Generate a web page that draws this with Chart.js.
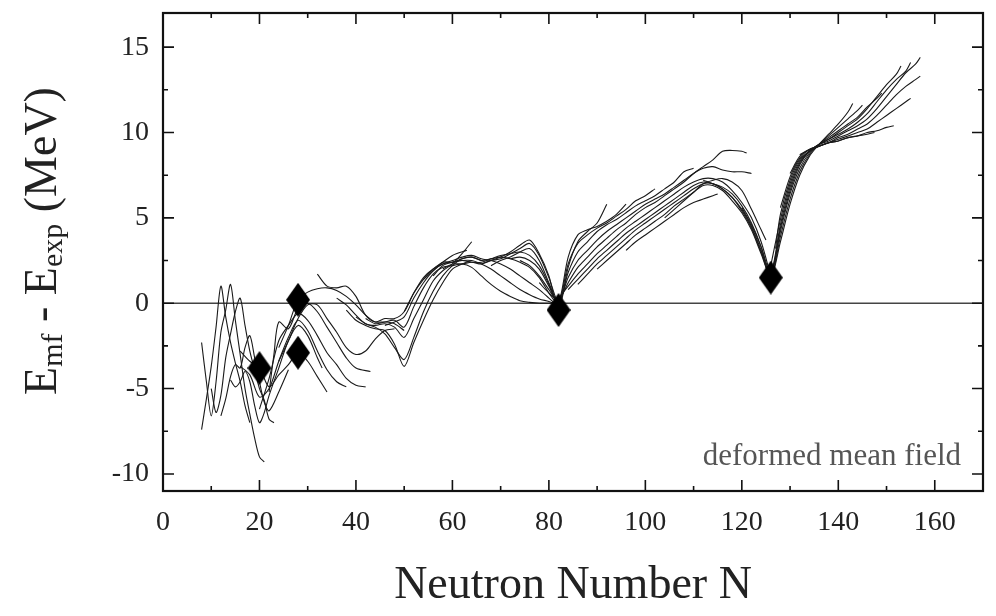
<!DOCTYPE html>
<html>
<head>
<meta charset="utf-8">
<script src="https://cdn.jsdelivr.net/npm/chart.js@4.4.0/dist/chart.umd.min.js"></script>
<style>
  html, body { margin: 0; padding: 0; background: #fff; }
</style>
</head>
<body>
<canvas id="meanfield" width="996" height="616"></canvas>
<script>
// isotope chains: [N, E_mf - E_exp]
const z08 = [[8,-7.4],[9,-5.6],[10,-3.7],[11,-1.4],[12,1.0],[13,-0.8],[14,-2.3],[15,-3.5],[16,-4.6],[17,-6.0],[18,-7.0]];
const z10 = [[8,-2.3],[9,-4.6],[10,-6.6],[11,-4.6],[12,-1.7],[13,-0.4],[14,1.1],[15,-1.0],[16,-3.0],[17,-5.0],[18,-6.5],[19,-7.9],[20,-9.0],[21,-9.3]];
const z12 = [[10,-5.0],[11,-6.4],[12,-5.4],[13,-3.2],[14,-1.8],[15,-0.5],[16,0.3],[17,-1.3],[18,-2.8],[19,-3.9],[20,-5.0],[21,-5.7],[22,-6.8],[23,-7.0]];
const z14 = [[12,-6.6],[13,-5.6],[14,-4.3],[15,-3.6],[16,-3.8],[17,-2.6],[18,-1.9],[19,-3.2],[20,-4.6],[21,-5.8],[22,-6.3],[24,-5.2],[26,-3.9]];
const z16 = [[14,-4.5],[15,-4.9],[16,-4.6],[17,-4.0],[18,-4.6],[19,-6.0],[20,-7.0],[21,-6.4],[22,-5.4],[24,-3.8],[26,-2.2],[28,-1.3],[30,-1.9],[32,-3.2],[33,-3.8]];
const z18 = [[16,-3.7],[18,-4.2],[20,-5.5],[22,-5.0],[24,-3.4],[26,-2.0],[28,-1.0],[30,-1.6],[32,-2.8],[34,-3.9],[36,-4.6],[38,-4.9]];
const z20 = [[16,-2.8],[18,-3.4],[20,-3.8],[22,-4.9],[24,-4.2],[26,-3.6],[28,-2.9],[30,-3.4],[32,-4.3],[34,-5.2]];
const z22 = [[20,-6.2],[22,-4.4],[24,-2.2],[26,-1.3],[28,-0.6],[30,-1.0],[32,-1.9],[34,-2.9],[36,-3.6],[38,-4.4],[40,-4.8],[42,-4.9]];
const z24 = [[22,-5.2],[23,-3.0],[24,-1.1],[26,-1.5],[28,-0.3],[30,0.0],[32,-0.5],[34,-1.4],[36,-2.3],[38,-3.2],[40,-3.8],[43,-4.0]];
const z26 = [[24,-3.4],[26,-2.2],[28,-0.9],[30,-0.1],[32,-0.1],[34,-0.9],[36,-1.7],[38,-2.6],[40,-3.0],[42,-2.8],[44,-2.1],[46,-1.6],[48,-1.5]];
const z28 = [[24,-2.6],[26,-1.3],[28,0.2],[30,0.65],[32,0.85],[34,0.9],[36,0.75],[38,0.4],[40,-0.1],[42,-0.7],[44,-1.1],[46,-1.1],[48,-1.2],[50,-1.6]];
const z30 = [[32,1.7],[34,1.0],[36,0.9],[38,1.0],[40,0.4],[42,-0.7],[44,-1.1],[46,-0.9],[48,-0.9],[50,-0.5],[52,0.6],[54,1.4],[56,2.0],[58,2.4],[60,2.8],[63,3.1]];
const z34 = [[36,0.3],[38,-0.1],[40,-0.7],[42,-1.2],[44,-1.3],[46,-1.2],[48,-1.4],[50,-2.0],[52,-0.9],[54,0.2],[56,1.3],[58,1.9],[60,2.3],[62,2.9],[64,3.6]];
const z36 = [[38,-0.4],[40,-1.0],[42,-1.3],[44,-1.5],[46,-1.6],[48,-2.4],[50,-3.7],[52,-2.3],[54,-1.0],[56,0.2],[58,1.2],[60,2.0],[62,2.3],[64,2.5]];
const z38 = [[40,-0.8],[42,-1.2],[44,-1.4],[46,-1.8],[48,-2.6],[50,-3.3],[52,-2.0],[54,-0.5],[56,0.7],[58,1.6],[60,2.2],[62,2.6],[64,2.7],[66,2.5]];
const z40 = [[42,-0.9],[44,-1.2],[46,-1.1],[48,-1.0],[50,-1.4],[52,-0.2],[54,0.9],[56,1.7],[58,2.1],[60,2.2],[62,2.3],[64,2.1],[66,1.6],[68,1.1],[70,0.7],[72,0.4],[74,0.15],[76,0.05],[78,0.0],[81,0.0]];
const z42 = [[46,-1.3],[48,-1.1],[50,-0.8],[52,0.3],[54,1.2],[56,1.9],[58,2.3],[60,2.4],[62,2.5],[64,2.5],[66,2.3],[68,2.0],[70,1.6],[72,1.2],[74,0.8],[76,0.5],[78,0.25],[80,0.1],[82,-0.1]];
const z44 = [[50,-0.5],[52,0.6],[54,1.5],[56,2.0],[58,2.3],[60,2.5],[62,2.7],[64,2.8],[66,2.6],[68,2.5],[70,2.3],[72,2.0],[74,1.6],[76,1.2],[78,0.8],[80,0.3],[82,-0.2]];
const z46 = [[54,1.4],[56,1.9],[58,2.4],[60,2.4],[62,2.6],[64,2.7],[66,2.5],[68,2.6],[70,2.7],[72,2.6],[74,2.4],[76,2.1],[78,1.5],[80,0.6],[82,-0.2]];
const z48 = [[56,1.6],[58,2.2],[60,2.4],[62,2.5],[64,2.4],[66,2.4],[68,2.6],[70,2.8],[72,2.9],[74,3.0],[76,2.8],[78,2.2],[80,1.1],[82,-0.3]];
const z50 = [[58,2.0],[60,2.3],[62,2.3],[64,2.4],[66,2.3],[68,2.5],[70,2.7],[72,3.0],[74,3.4],[76,3.7],[78,2.9],[80,1.6],[82,-0.4],[84,2.1],[86,3.6],[88,4.2],[90,4.7],[92,5.8]];
const z52 = [[66,2.3],[68,2.5],[70,2.6],[72,2.9],[74,3.2],[76,3.5],[78,2.8],[80,1.5],[82,0.1],[84,2.7],[86,4.0],[88,4.3],[90,4.5],[92,4.8],[94,5.2],[96,5.8]];
const z54 = [[68,2.2],[70,2.5],[72,2.7],[74,3.0],[76,3.2],[78,2.5],[80,1.2],[82,0.0],[84,2.3],[86,3.5],[88,4.0],[90,4.4],[92,4.7],[94,5.1],[96,5.5],[98,6.0],[100,6.3],[102,6.7]];
const z56 = [[72,2.6],[74,2.7],[76,2.5],[78,2.0],[80,1.0],[82,0.0],[84,1.8],[86,3.0],[88,3.6],[90,4.2],[92,4.6],[94,4.9],[96,5.3],[98,5.7],[100,6.0],[102,6.3],[104,6.7],[106,7.1],[108,7.7],[110,7.9]];
const z58 = [[74,2.5],[76,2.2],[78,1.6],[80,0.8],[82,0.1],[84,1.5],[86,2.5],[88,3.1],[90,3.7],[92,4.2],[94,4.6],[96,5.0],[98,5.4],[100,5.8],[102,6.1],[104,6.4],[106,6.8],[108,7.2],[110,7.6],[112,7.9],[114,8.0],[116,7.8],[118,7.7],[120,7.7],[122,7.6]];
const z60 = [[78,1.2],[80,0.6],[82,0.2],[84,1.2],[86,2.1],[88,2.7],[90,3.3],[92,3.8],[94,4.3],[96,4.7],[98,5.2],[100,5.6],[102,5.9],[104,6.3],[106,6.7],[108,7.1],[110,7.6],[112,8.0],[114,8.4],[116,8.9],[118,8.95],[120,8.9],[121,8.8]];
const z62 = [[82,0.3],[84,1.0],[86,1.7],[88,2.3],[90,2.9],[92,3.4],[94,3.9],[96,4.4],[98,4.8],[100,5.2],[102,5.6],[104,6.0],[106,6.4],[108,6.8],[110,7.1],[112,7.3],[114,7.3],[116,7.1],[118,6.6],[120,5.9],[122,5.0],[124,3.6],[126,1.6]];
const z64 = [[84,0.8],[86,1.4],[88,2.0],[90,2.6],[92,3.1],[94,3.6],[96,4.1],[98,4.5],[100,4.9],[102,5.3],[104,5.7],[106,6.1],[108,6.5],[110,6.9],[112,7.1],[114,7.0],[116,6.8],[118,6.4],[120,5.7],[122,4.7],[124,3.3],[126,1.5],[128,3.6],[130,5.8],[132,7.5],[134,8.6],[136,9.3],[138,9.9],[140,10.5],[142,11.2],[143,11.7]];
const z66 = [[86,1.1],[88,1.7],[90,2.3],[92,2.8],[94,3.3],[96,3.8],[98,4.3],[100,4.7],[102,5.1],[104,5.5],[106,5.9],[108,6.3],[110,6.7],[112,7.0],[114,7.0],[116,6.7],[118,6.2],[120,5.5],[122,4.5],[124,3.1],[126,1.5],[128,3.9],[130,6.1],[132,7.7],[134,8.7],[136,9.3],[138,9.8],[140,10.3],[142,10.8],[144,11.3],[145,11.6]];
const z68 = [[90,2.0],[92,2.5],[94,3.0],[96,3.5],[98,4.0],[100,4.4],[102,4.8],[104,5.2],[106,5.7],[108,6.1],[110,6.5],[112,6.9],[114,6.9],[116,6.6],[118,6.0],[120,5.3],[122,4.3],[124,2.9],[126,1.6],[128,4.2],[130,6.4],[132,7.9],[134,8.8],[136,9.3],[138,9.7],[140,10.1],[142,10.5],[144,10.9],[146,11.5],[148,12.0],[149,12.3]];
const z70 = [[96,3.1],[98,3.6],[100,4.0],[102,4.4],[104,4.8],[106,5.2],[108,5.6],[110,5.9],[112,6.1],[114,6.3],[115,6.4]];
const z72 = [[104,5.0],[106,5.5],[108,6.0],[110,6.5],[112,7.0],[114,7.2],[116,7.3],[118,7.1],[120,6.6],[122,5.5],[124,4.3],[125,3.7]];
const z76 = [[112,7.2],[114,7.0],[116,6.7],[118,6.2],[120,5.4],[122,4.4],[124,3.0],[126,1.7],[128,4.4],[130,6.6],[132,8.1],[134,8.9],[136,9.3],[138,9.6],[140,10.0],[142,10.4],[144,10.8],[146,11.4],[148,12.1],[150,12.8],[152,13.4],[153,13.9]];
const z78 = [[120,5.6],[122,4.6],[124,3.3],[126,1.8],[128,4.6],[130,6.8],[132,8.2],[134,8.9],[136,9.3],[138,9.6],[140,9.9],[142,10.2],[144,10.6],[146,11.1],[148,11.8],[150,12.5],[152,13.1],[154,13.6],[155,14.1]];
const z80 = [[126,2.2],[128,4.9],[130,7.0],[132,8.3],[134,8.9],[136,9.3],[138,9.5],[140,9.8],[142,10.1],[144,10.4],[146,10.8],[148,11.4],[150,12.1],[152,12.8],[154,13.5],[156,14.0],[157,14.4]];
const z82 = [[127,3.2],[128,5.2],[130,7.2],[132,8.4],[134,8.9],[136,9.2],[138,9.4],[140,9.7],[142,9.9],[144,10.2],[146,10.5],[148,11.0],[150,11.6],[152,12.2],[154,12.7],[156,13.1],[157,13.3]];
const z84 = [[128,5.6],[130,7.4],[132,8.5],[134,9.0],[136,9.2],[138,9.4],[140,9.6],[142,9.8],[144,10.0],[146,10.2],[148,10.6],[150,11.0],[152,11.4],[154,11.8],[155,12.0]];
const z86 = [[130,7.6],[132,8.6],[134,9.0],[136,9.2],[138,9.4],[140,9.5],[142,9.7],[144,9.8],[146,9.9],[147.5,10.0]];
const z88 = [[132,8.7],[134,9.0],[136,9.2],[138,9.4],[140,9.5],[142,9.7],[144,9.8],[146,10.0],[148,10.1],[150,10.3],[151.5,10.4]];

const chains = [z08, z10, z12, z14, z16, z18, z20, z22, z24, z26, z28, z30, z34, z36, z38, z40,
  z42, z44, z46, z48, z50, z52, z54, z56, z58, z60, z62, z64, z66, z68, z70, z72, z76, z78, z80, z82, z84, z86, z88];

// doubly magic nuclei
const magicN = [20, 28, 28, 82, 126];
const magicE = [-3.8, 0.2, -2.9, -0.4, 1.5];

const xTicks = [0, 20, 40, 60, 80, 100, 120, 140, 160];
const yTicks = [-10, -5, 0, 5, 10, 15];

const serif = '"Liberation Serif", "DejaVu Serif", serif';

// tall diamond marker
const diamond = document.createElement('canvas');
diamond.width = 24; diamond.height = 34;
(function () {
  const c = diamond.getContext('2d');
  c.fillStyle = '#000';
  c.beginPath();
  c.moveTo(12, 0); c.lineTo(24, 17); c.lineTo(12, 34); c.lineTo(0, 17);
  c.closePath();
  c.fill();
})();

const datasets = [{
  data: magicN.map((n, i) => ({ x: n, y: magicE[i] })),
  showLine: false,
  pointStyle: diamond,
  pointRadius: 12,
  order: 0
}];
chains.forEach(ch => {
  datasets.push({
    data: ch.map(p => ({ x: p[0], y: p[1] })),
    showLine: true,
    borderColor: '#1a1a1a',
    borderWidth: 1.1,
    pointRadius: 0,
    tension: 0.3,
    order: 1
  });
});

const frame = {
  id: 'frame',
  beforeDatasetsDraw(chart) {
    const { ctx, chartArea: a, scales } = chart;
    const y0 = scales.y.getPixelForValue(0);
    ctx.save();
    ctx.strokeStyle = '#444';
    ctx.lineWidth = 1.6;
    ctx.beginPath();
    ctx.moveTo(a.left, y0); ctx.lineTo(a.right, y0);
    ctx.stroke();
    ctx.restore();
  },
  afterDraw(chart) {
    const { ctx, chartArea: a, scales } = chart;
    ctx.save();
    ctx.strokeStyle = '#111';
    ctx.lineWidth = 1.6;
    ctx.beginPath();
    for (let v = 0; v <= 170; v += 10) {
      const px = scales.x.getPixelForValue(v);
      const len = v % 20 === 0 ? 11 : 5;
      ctx.moveTo(px, a.bottom); ctx.lineTo(px, a.bottom - len);
      ctx.moveTo(px, a.top); ctx.lineTo(px, a.top + len);
    }
    for (let v = -10; v <= 15; v += 2.5) {
      const py = scales.y.getPixelForValue(v);
      const len = v % 5 === 0 ? 11 : 5;
      ctx.moveTo(a.left, py); ctx.lineTo(a.left + len, py);
      ctx.moveTo(a.right, py); ctx.lineTo(a.right - len, py);
    }
    ctx.stroke();
    ctx.lineWidth = 2.2;
    ctx.strokeRect(a.left, a.top, a.right - a.left, a.bottom - a.top);

    // annotation
    ctx.fillStyle = '#555';
    ctx.font = '31px ' + serif;
    ctx.textAlign = 'right';
    ctx.textBaseline = 'alphabetic';
    ctx.fillText('deformed mean field', a.right - 22, a.bottom - 26);

    // y axis title with subscripts
    const big = '46px ' + serif, small = '30px ' + serif;
    const parts = [['E', big, 0], ['mf', small, 10], [' - E', big, 0], ['exp', small, 10], [' (MeV)', big, 0]];
    let total = 0;
    parts.forEach(p => { ctx.font = p[1]; total += ctx.measureText(p[0]).width; });
    ctx.translate(44, 241);
    ctx.rotate(-Math.PI / 2);
    ctx.fillStyle = '#222';
    ctx.textAlign = 'left';
    ctx.textBaseline = 'middle';
    let x = -total / 2;
    parts.forEach(p => {
      ctx.font = p[1];
      ctx.fillText(p[0], x, p[2]);
      x += ctx.measureText(p[0]).width;
    });
    ctx.restore();
  }
};

new Chart(document.getElementById('meanfield'), {
  type: 'scatter',
  data: { datasets: datasets },
  options: {
    responsive: false,
    animation: false,
    layout: { padding: { top: 12, right: 5, left: 0, bottom: 0 } },
    plugins: { legend: { display: false }, tooltip: { enabled: false } },
    scales: {
      x: {
        type: 'linear',
        min: 0, max: 170,
        afterBuildTicks: s => { s.ticks = xTicks.map(v => ({ value: v })); },
        afterFit: s => { s.height = 125; s.paddingLeft = 0; s.paddingRight = 0; },
        grid: { display: false, drawTicks: false },
        border: { display: false },
        ticks: { color: '#222', padding: 15, maxRotation: 0, font: { family: serif, size: 28 } },
        title: { display: true, text: 'Neutron Number N', color: '#222', padding: { top: 0, bottom: 2 }, font: { family: serif, size: 46 } }
      },
      y: {
        type: 'linear',
        min: -11, max: 17,
        afterBuildTicks: s => { s.ticks = yTicks.map(v => ({ value: v })); },
        afterFit: s => { s.width = 163; s.paddingTop = 0; s.paddingBottom = 0; },
        grid: { display: false, drawTicks: false },
        border: { display: false },
        ticks: { color: '#222', padding: 14, font: { family: serif, size: 28 } }
      }
    }
  },
  plugins: [frame]
});
</script>
</body>
</html>
